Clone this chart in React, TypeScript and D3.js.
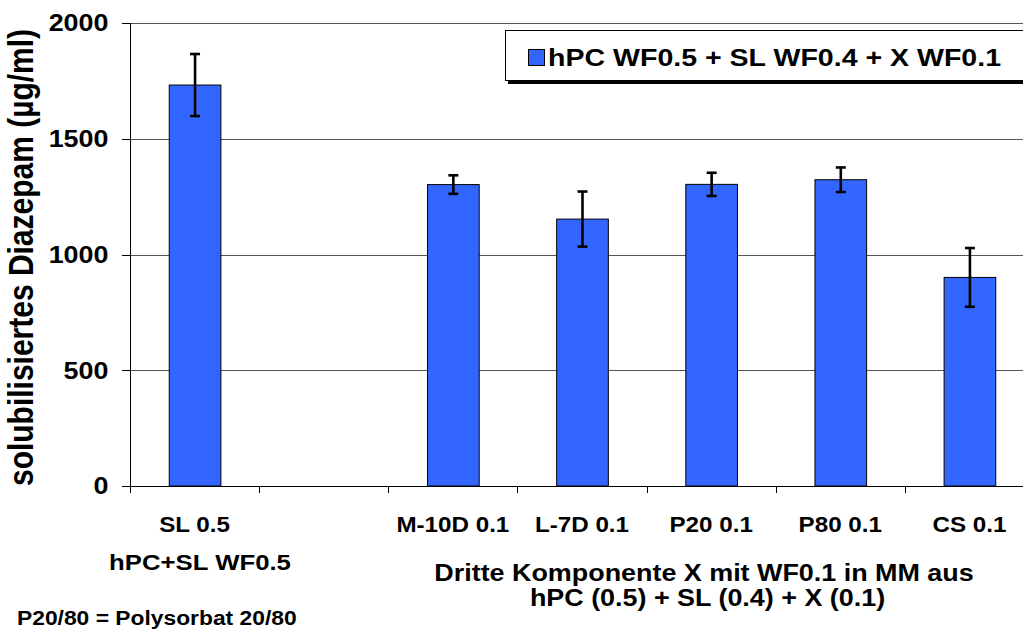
import React from "react";
import * as d3 from "d3";

const categories = ["SL 0.5", "gap", "M-10D 0.1", "L-7D 0.1", "P20 0.1", "P80 0.1", "CS 0.1"];
const categoryLabels = ["SL 0.5", "", "M-10D 0.1", "L-7D 0.1", "P20 0.1", "P80 0.1", "CS 0.1"];
const values: (number | null)[] = [1732, null, 1302, 1153, 1303, 1323, 901];
const errors: (number | null)[] = [134, null, 40, 119, 50, 53, 127];
const yTicks = [0, 500, 1000, 1500, 2000];
const seriesName = "hPC WF0.5 + SL WF0.4 + X WF0.1";
const yTitle = "solubilisiertes Diazepam (µg/ml)";
const groupLabel = "hPC+SL WF0.5";
const xTitle1 = "Dritte Komponente X mit WF0.1 in MM aus";
const xTitle2 = "hPC (0.5) + SL (0.4) + X (0.1)";
const footnote = "P20/80 = Polysorbat 20/80";

const W = 1023;
const H = 632;
const SX = 1.17;
const FONT = "'Liberation Sans', Arial, Helvetica, sans-serif";
const BLUE = "#3366FF";

export default function App() {
  const left = 130;
  const right = 1034;
  const top = 23;
  const bottom = 486;

  const x = d3.scaleBand<string>().domain(categories).range([left, right]).paddingInner(0.6).paddingOuter(0.3);
  const y = d3.scaleLinear().domain([0, 2000]).range([bottom, top]);
  const step = x.step();
  const bw = x.bandwidth();

  const T = (props: any) => {
    const { x: tx, y: ty, size, anchor = "middle", children, rotate, sx = SX } = props;
    const tr = rotate
      ? `translate(${tx},${ty}) scale(${sx},1) rotate(-90)`
      : `translate(${tx},${ty}) scale(${sx},1)`;
    return (
      <text transform={tr} fontSize={size} fontWeight="bold" fontFamily={FONT} textAnchor={anchor} fill="#000">
        {children}
      </text>
    );
  };

  return (
    <svg width={W} height={H} style={{ position: "absolute", left: 0, top: 0, background: "#fff" }}>
      <rect x={0} y={0} width={W} height={H} fill="#fff" />
      {/* grid lines */}
      {yTicks.filter((t) => t > 0).map((t) => (
        <line key={"g" + t} x1={left} x2={right} y1={Math.round(y(t)) + 0.5} y2={Math.round(y(t)) + 0.5} stroke="#555" strokeWidth={1} />
      ))}
      {/* y ticks */}
      {yTicks.map((t) => (
        <g key={"yt" + t}>
          <line x1={left - 8} x2={left} y1={Math.round(y(t)) + 0.5} y2={Math.round(y(t)) + 0.5} stroke="#000" />
          <T x={108.5} y={y(t) + 8.3} size={23} anchor="end">{t}</T>
        </g>
      ))}
      {/* bars */}
      {categories.map((c, i) => {
        const v = values[i];
        if (v == null) return null;
        const bx = x(c)!;
        return (
          <rect key={"b" + c} x={bx + 0.5} y={y(v)} width={bw} height={bottom - y(v)} fill={BLUE} stroke="#000" strokeWidth={1} />
        );
      })}
      {/* error bars */}
      {categories.map((c, i) => {
        const v = values[i];
        const e = errors[i];
        if (v == null || e == null) return null;
        const cx = x(c)! + bw / 2 + 0.5;
        return (
          <g key={"e" + c} stroke="#000" strokeWidth={2.6}>
            <line x1={cx} x2={cx} y1={y(v + e)} y2={y(v - e)} />
            <line x1={cx - 5} x2={cx + 5} y1={y(v + e)} y2={y(v + e)} />
            <line x1={cx - 5} x2={cx + 5} y1={y(v - e)} y2={y(v - e)} />
          </g>
        );
      })}
      {/* axes */}
      <line x1={left + 0.5} x2={left + 0.5} y1={top} y2={bottom} stroke="#000" />
      <line x1={left} x2={right} y1={bottom + 0.5} y2={bottom + 0.5} stroke="#000" />
      {d3.range(categories.length + 1).map((i) => (
        <line key={"xt" + i} x1={Math.round(left + i * step) + 0.5} x2={Math.round(left + i * step) + 0.5} y1={bottom} y2={bottom + 7} stroke="#000" />
      ))}
      {/* category labels */}
      {categories.map((c, i) => (
        categoryLabels[i] ? (
          <T key={"cl" + c} x={x(c)! + bw / 2} y={532} size={22} sx={1.1}>{categoryLabels[i]}</T>
        ) : null
      ))}
      <T x={200} y={570} size={22}>{groupLabel}</T>
      <T x={704} y={581} size={23}>{xTitle1}</T>
      <T x={707.5} y={606} size={23}>{xTitle2}</T>
      <T x={17} y={625} size={19.5} anchor="start">{footnote}</T>
      <T x={33} y={257.5} size={30} rotate>{yTitle}</T>
      {/* legend */}
      <rect x={508} y={33} width={530} height={51} fill="#000" />
      <rect x={505.5} y={30.5} width={530} height={50} fill="#fff" stroke="#000" strokeWidth={1} />
      <rect x={528.5} y={49.5} width={16} height={16} fill={BLUE} stroke="#000" strokeWidth={1} />
      <T x={548} y={65.5} size={24.4} anchor="start">{seriesName}</T>
    </svg>
  );
}
